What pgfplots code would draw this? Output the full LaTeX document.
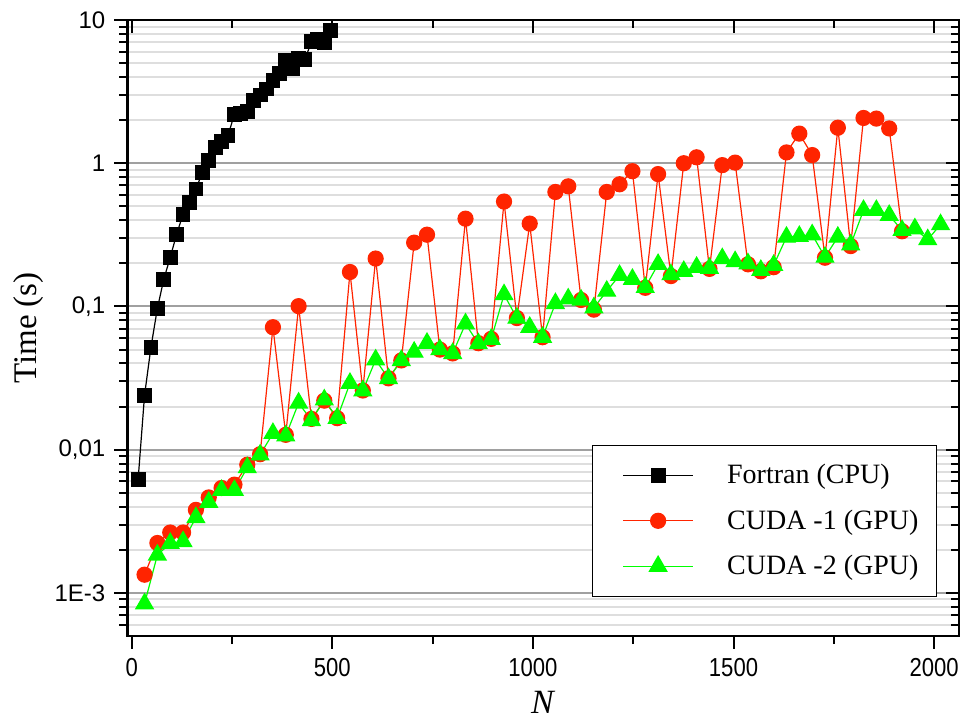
\documentclass[border=0pt]{standalone}
\usepackage{fontspec}
\setmainfont{Liberation Serif}
\setsansfont{Liberation Sans}
\usepackage{pgfplots}
\pgfplotsset{compat=1.18}
\definecolor{cred}{RGB}{255,36,0}
\definecolor{cgreen}{RGB}{0,255,0}
\definecolor{gmaj}{RGB}{160,160,160}
\definecolor{gmin}{RGB}{222,222,222}
\begin{document}
\begin{tikzpicture}[x=1pt,y=1pt]
\path[use as bounding box] (-63.65,-42) rectangle (417.85,318);
\begin{axis}[
  at={(0,0)}, anchor=south west,
  scale only axis, width=415.85pt, height=308pt,
  ymode=log, xmin=-11, xmax=2062, ymin=5e-4, ymax=10,
  axis line style={line width=1.4pt},
  tick align=outside, xtick pos=bottom, ytick pos=left,
  major tick length=6.5pt, minor tick length=4pt,
  every tick/.style={black, line width=1pt},
  xtick={0,500,1000,1500,2000}, minor xtick={250,750,1250,1750},
  xticklabels={0,500,1000,1500,2000},
  ytick={1e-3,1e-2,1e-1,1,10},
  yticklabels={1E-3,{0,01},{0,1},1,10},
  minor ytick={6e-4,7e-4,8e-4,9e-4,2e-3,3e-3,4e-3,5e-3,6e-3,7e-3,8e-3,9e-3,0.02,0.03,0.04,0.05,0.06,0.07,0.08,0.09,0.2,0.3,0.4,0.5,0.6,0.7,0.8,0.9,2,3,4,5,6,7,8,9},
  ymajorgrids, yminorgrids,
  major grid style={gmaj, line width=1pt},
  minor grid style={gmin, line width=1pt},
  xticklabel style={font=\fontsize{13}{13}\sffamily, xscale=0.85, yshift=-1pt},
  yticklabel style={font=\fontsize{12}{12}\sffamily, xshift=-1pt},
  xlabel={\textit{N}}, ylabel={Time (s)},
  xlabel style={font=\fontsize{17}{17}\selectfont, at={(axis description cs:0.5,-0.108)}, anchor=center},
  ylabel style={font=\fontsize{16.5}{16.5}\selectfont, at={(axis description cs:-0.119,0.5)}, anchor=center},
  legend cell align=left,
  legend style={at={(rel axis cs:0.9736,0.0633)}, anchor=south east, draw=black, line width=0.6pt,
    font=\fontsize{14}{14}\selectfont, inner xsep=7pt, inner ysep=7.5pt,
    row sep=7.5pt, nodes={inner sep=2pt}},
  legend image code/.code={\path[draw=none] (-8.5pt,0pt) -- (0pt,0pt); \draw[mark repeat=2, mark phase=2, #1] plot coordinates {(0pt,0pt) (17.5pt,0pt) (35pt,0pt)}; \path[draw=none] (35pt,0pt) -- (50pt,0pt);},
]
\addplot[black, line width=0.6pt, mark=square*, mark size=3.4pt, mark options={solid, fill=black, draw=black}] coordinates {
(16,0.0062)(32,0.024)(48,0.052)(64,0.097)(80,0.155)(96,0.22)(112,0.32)(128,0.44)(144,0.53)(160,0.66)(176,0.86)(192,1.05)(208,1.28)(224,1.41)(240,1.56)(256,2.2)(272,2.22)(288,2.29)(304,2.75)(320,3.0)(336,3.3)(352,3.8)(368,4.25)(384,5.2)(400,4.6)(416,5.4)(432,5.3)(448,7.1)(464,7.3)(480,6.9)(496,8.5)
};
\addlegendentry{Fortran (CPU)}
\addplot[cred, line width=0.6pt, mark=*, mark size=3.75pt, mark options={solid, fill=cred, draw=cred}] coordinates {
(32,0.00134)(64,0.00223)(96,0.00264)(128,0.00264)(160,0.0038)(192,0.00464)(224,0.0054)(256,0.0057)(288,0.00785)(320,0.0093)(352,0.0716)(384,0.0127)(416,0.1005)(448,0.0164)(480,0.022)(512,0.0166)(544,0.174)(576,0.0259)(608,0.216)(640,0.0315)(672,0.042)(704,0.279)(736,0.317)(768,0.05)(800,0.047)(832,0.41)(864,0.0554)(896,0.0594)(928,0.54)(960,0.083)(992,0.379)(1024,0.061)(1056,0.63)(1088,0.69)(1120,0.111)(1152,0.095)(1184,0.63)(1216,0.713)(1248,0.88)(1280,0.135)(1312,0.84)(1344,0.163)(1376,1.0)(1408,1.1)(1440,0.183)(1472,0.97)(1504,1.01)(1536,0.197)(1568,0.176)(1600,0.188)(1632,1.19)(1664,1.61)(1696,1.14)(1728,0.219)(1760,1.77)(1792,0.264)(1824,2.07)(1856,2.05)(1888,1.75)(1920,0.335)
};
\addlegendentry{CUDA -1 (GPU)}
\addplot[cgreen, line width=0.6pt, mark=triangle*, mark size=5pt, mark options={solid, fill=cgreen, draw=cgreen}] coordinates {
(32,0.00084)(64,0.00184)(96,0.00222)(128,0.00228)(160,0.00336)(192,0.0043)(224,0.0052)(256,0.0052)(288,0.0075)(320,0.0092)(352,0.013)(384,0.0125)(416,0.0212)(448,0.016)(480,0.0223)(512,0.0166)(544,0.0291)(576,0.0258)(608,0.0424)(640,0.0314)(672,0.042)(704,0.048)(736,0.0554)(768,0.05)(800,0.047)(832,0.0757)(864,0.055)(896,0.059)(928,0.121)(960,0.083)(992,0.0716)(1024,0.061)(1056,0.105)(1088,0.113)(1120,0.111)(1152,0.098)(1184,0.128)(1216,0.165)(1248,0.155)(1280,0.136)(1312,0.197)(1344,0.167)(1376,0.176)(1408,0.188)(1440,0.185)(1472,0.216)(1504,0.206)(1536,0.199)(1568,0.179)(1600,0.194)(1632,0.305)(1664,0.309)(1696,0.317)(1728,0.221)(1760,0.305)(1792,0.27)(1824,0.469)(1856,0.469)(1888,0.433)(1920,0.34)(1952,0.349)(1984,0.293)(2016,0.373)
};
\addlegendentry{CUDA -2 (GPU)}
\end{axis}
\begin{axis}[
  at={(0,0)}, anchor=south west,
  scale only axis, width=415.85pt, height=308pt,
  ymode=log, xmin=-11, xmax=2062, ymin=5e-4, ymax=10,
  axis line style={line width=1.4pt},
  tick align=inside, xtick pos=top, ytick pos=right,
  major tick length=6.5pt, minor tick length=4pt,
  every tick/.style={black, line width=1pt},
  xtick={0,500,1000,1500,2000}, minor xtick={250,750,1250,1750},
  xticklabels={}, yticklabels={},
  ytick={1e-3,1e-2,1e-1,1,10},
  minor ytick={6e-4,7e-4,8e-4,9e-4,2e-3,3e-3,4e-3,5e-3,6e-3,7e-3,8e-3,9e-3,0.02,0.03,0.04,0.05,0.06,0.07,0.08,0.09,0.2,0.3,0.4,0.5,0.6,0.7,0.8,0.9,2,3,4,5,6,7,8,9},
]
\end{axis}
\end{tikzpicture}
\end{document}
